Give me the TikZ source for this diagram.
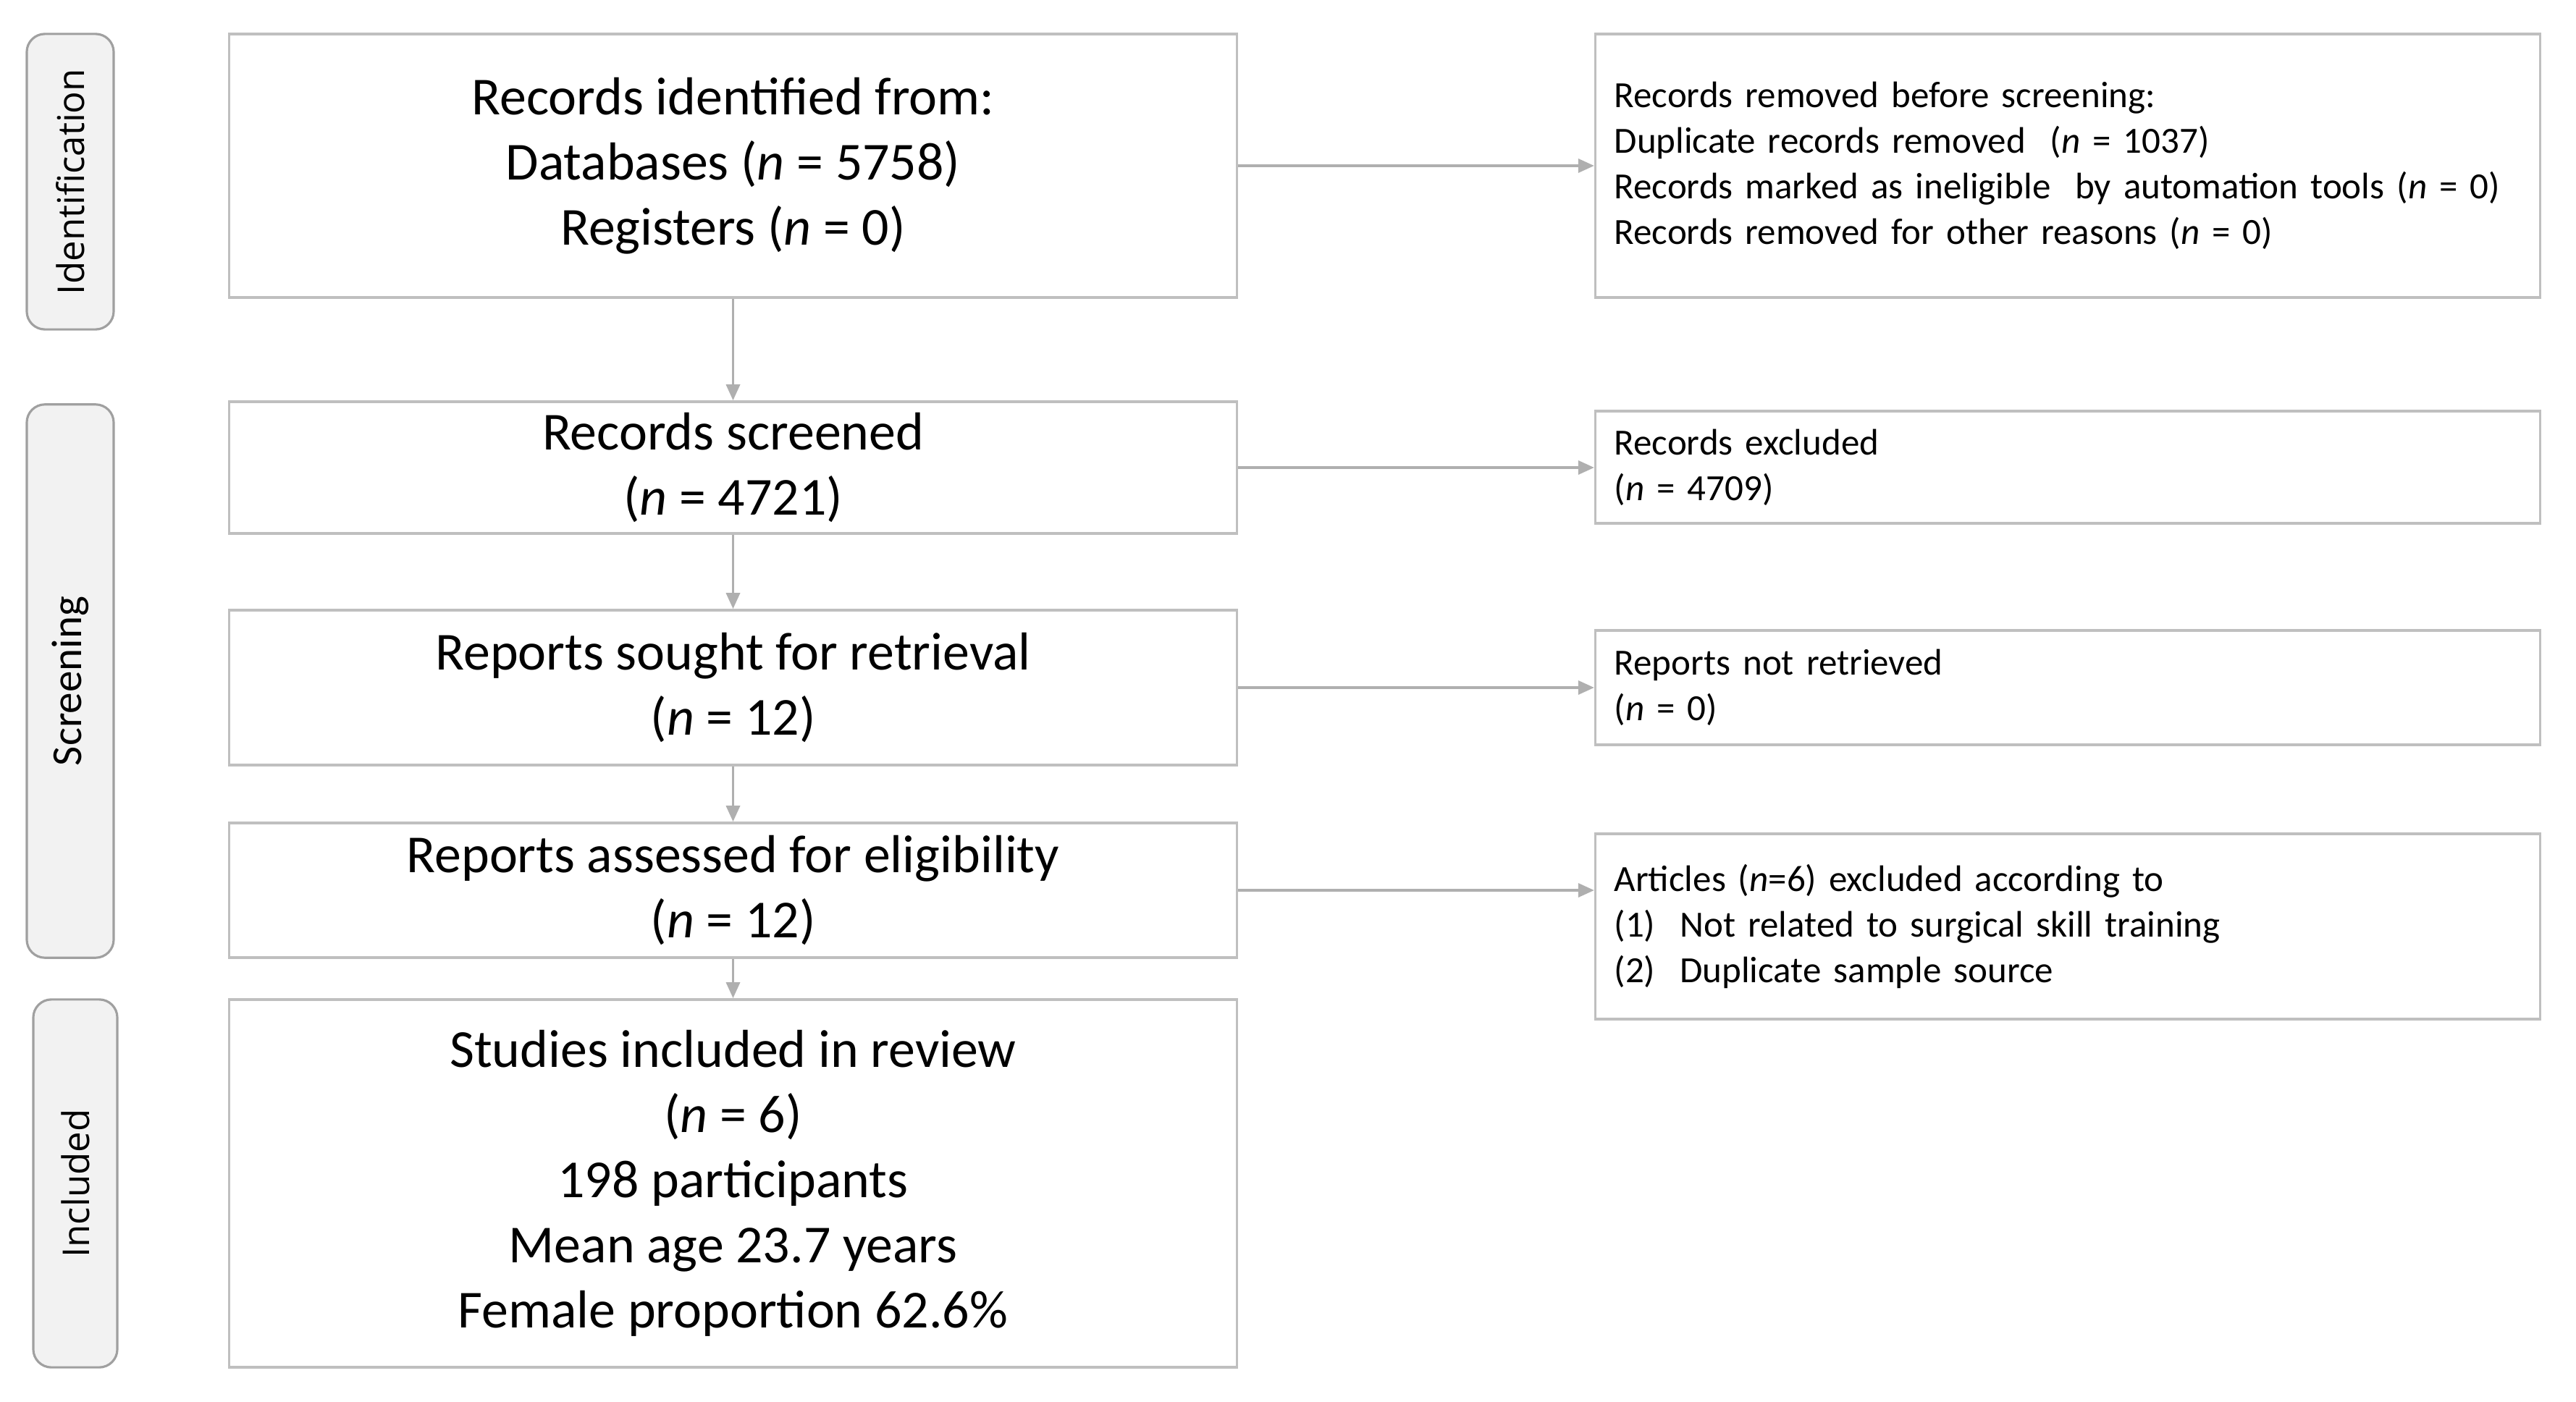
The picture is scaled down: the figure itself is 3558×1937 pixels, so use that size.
\documentclass[tikz,border=0pt]{standalone}
\usepackage{fontspec}
\setmainfont{Carlito}
\newfontfamily\sidefont{Open Sans}
\newfontfamily\rightfont[WordSpace=0.8]{Carlito}
\usetikzlibrary{arrows.meta}
\definecolor{boxline}{RGB}{191,191,191}
\definecolor{arrline}{RGB}{175,175,175}
\definecolor{sidefill}{RGB}{242,242,242}
\definecolor{sideline}{RGB}{160,160,160}
\tikzset{
  mainbox/.style={draw=boxline, line width=1pt, rectangle, inner sep=0pt,
    minimum width=13.91cm, align=center,
    font=\fontsize{21pt}{25.6pt}\selectfont},
  sidebox/.style={draw=boxline, line width=1pt, rectangle, inner xsep=0.26cm, inner ysep=0pt,
    minimum width=13.04cm, text width=12.52cm, align=left,
    font=\rightfont\fontsize{14.5pt}{17.9pt}\selectfont},
  phase/.style={draw=sideline, fill=sidefill, line width=0.9pt, rounded corners=0.25cm,
    rectangle, inner sep=0pt, rotate=90},
  flow/.style={draw=arrline, line width=1pt, -{Triangle[length=0.22cm,width=0.19cm]}}
}
\begin{document}
\begin{tikzpicture}[x=0.01cm, y=-0.01cm]
\useasboundingbox (0,0) rectangle (3558,1937);
% phase labels
\node[phase, minimum width=4.08cm, minimum height=1.2cm, font=\sidefont\fontsize{14.5pt}{17pt}\selectfont] (pid) at (97,251) {Identification};
\node[phase, minimum width=7.64cm, minimum height=1.2cm, font=\fontsize{16.8pt}{20pt}\selectfont] (psc) at (97,941) {Screening};
\node[phase, minimum width=5.08cm, minimum height=1.16cm, font=\sidefont\fontsize{14.5pt}{17pt}\selectfont] (pin) at (104,1635) {Included};
% main column
\node[mainbox, minimum height=3.64cm] (b1) at (1012.5,229)
  {Records identified from:\\Databases (\textit{n} = 5758)\\Registers (\textit{n} = 0)};
\node[mainbox, minimum height=1.82cm] (b2) at (1012.5,646)
  {Records screened\\(\textit{n} = 4721)};
\node[mainbox, minimum height=2.14cm] (b3) at (1012.5,950)
  {Reports sought for retrieval\\(\textit{n} = 12)};
\node[mainbox, minimum height=1.86cm] (b4) at (1012.5,1230)
  {Reports assessed for eligibility\\(\textit{n} = 12)};
\node[mainbox, minimum height=5.08cm] (b5) at (1012.5,1635)
  {Studies included in review\\(\textit{n} = 6)\\198 participants\\Mean age 23.7 years\\Female proportion 62.6\%};
% right column
\node[sidebox, minimum height=3.64cm] (r1) at (2856,229)
  {Records removed before screening:\\Duplicate records removed\ \ (\textit{n} = 1037)\\Records marked as ineligible\ \ by automation tools (\textit{n} = 0)\\Records removed for other reasons (\textit{n} = 0)};
\node[sidebox, minimum height=1.55cm] (r2) at (2856,645.5)
  {Records excluded\\(\textit{n} = 4709)};
\node[sidebox, minimum height=1.58cm] (r3) at (2856,950)
  {Reports not retrieved\\(\textit{n} = 0)};
\node[sidebox, minimum height=2.56cm] (r4) at (2856,1280)
  {Articles (\textit{n}=6) excluded according to\\(1)\ \ Not related to surgical skill training\\(2)\ \ Duplicate sample source};
% connectors
\draw[flow] (b1.south) -- (b2.north);
\draw[flow] (b2.south) -- (b3.north);
\draw[flow] (b3.south) -- (b4.north);
\draw[flow] (b4.south) -- (b5.north);
\draw[flow] (b1.east) -- (b1.east -| r1.west);
\draw[flow] (b2.east) -- (b2.east -| r2.west);
\draw[flow] (b3.east) -- (b3.east -| r3.west);
\draw[flow] (b4.east) -- (b4.east -| r4.west);
\end{tikzpicture}
\end{document}
